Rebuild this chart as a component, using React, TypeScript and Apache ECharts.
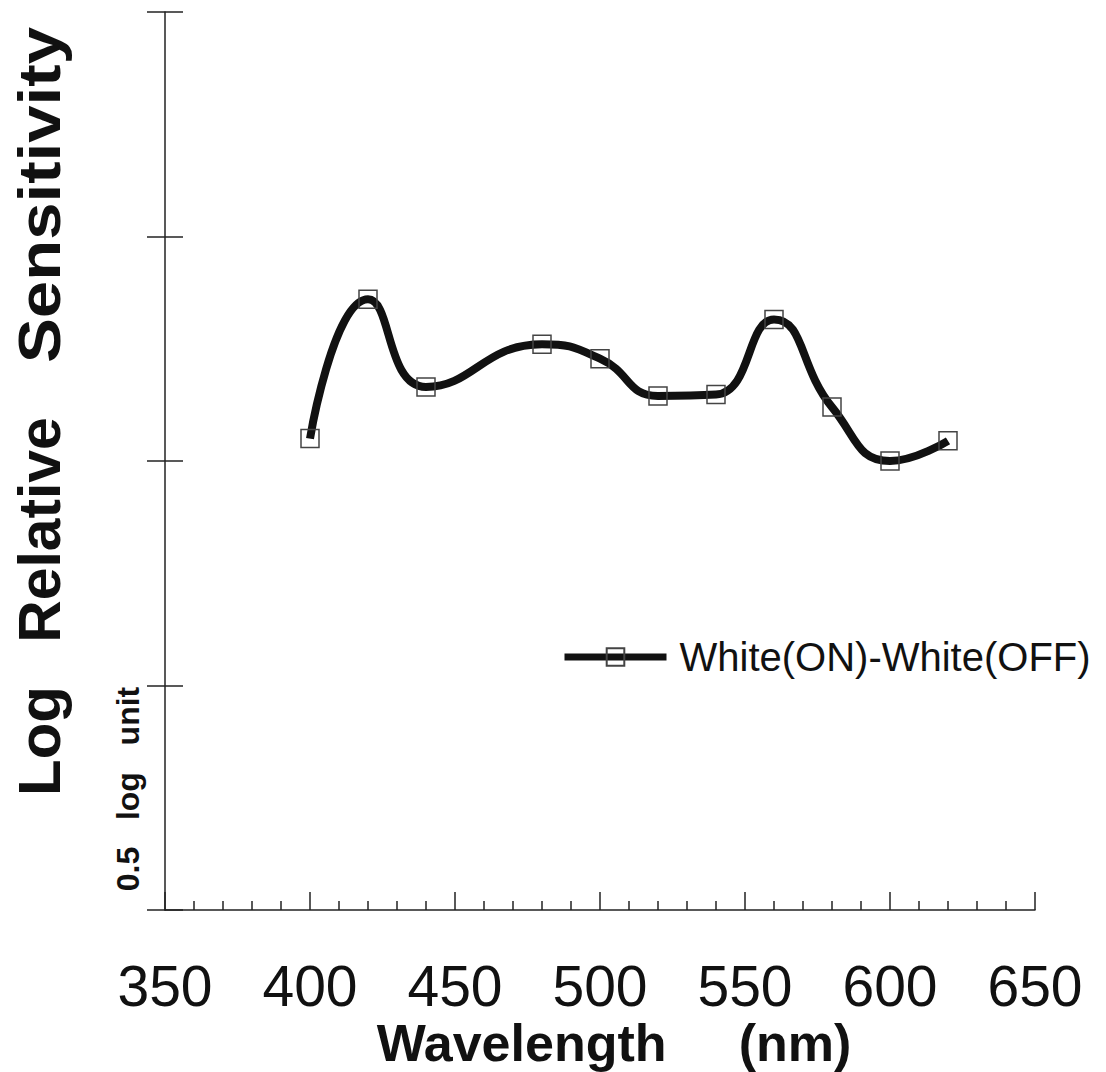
import React, { useEffect, useRef } from "react";
import * as echarts from "echarts";

const wavelengths = [400, 420, 440, 480, 500, 520, 540, 560, 580, 600, 620];
const sensitivity = [1.05, 1.36, 1.165, 1.26, 1.228, 1.145, 1.148, 1.315, 1.12, 1.0, 1.045];
const seriesName = "White(ON)-White(OFF)";
const xTitle = "Wavelength     (nm)";
const yTitleWords = ["Log", "Relative", "Sensitivity"];
const scaleNote = "0.5   log   unit";

const FONT = "'Liberation Sans', Arial, Helvetica, sans-serif";

export default function App() {
  const ref = useRef<HTMLDivElement>(null);
  useEffect(() => {
    const chart = echarts.init(ref.current!, null, { renderer: "svg" });
    const wordCenters = [741, 530, 195];
    const wordScale = [1.0, 0.98, 1.12];
    chart.setOption({
      animation: false,
      backgroundColor: "#ffffff",
      grid: { left: 165, right: 71, top: 12, bottom: 162 },
      legend: {
        show: true,
        left: 556,
        top: 632,
        itemWidth: 102,
        itemHeight: 22,
        data: [seriesName],
        textStyle: { fontSize: 40, color: "#111", fontFamily: FONT, padding: [0, 0, 0, 8] },
        lineStyle: { width: 7, color: "#111" },
      },
      xAxis: {
        type: "value",
        min: 350,
        max: 650,
        interval: 50,
        axisLine: { show: true, lineStyle: { color: "#222", width: 1.5 } },
        axisTick: { show: true, inside: true, length: 18, lineStyle: { color: "#222", width: 1.5 } },
        minorTick: { show: true, splitNumber: 5, length: 9, lineStyle: { color: "#222", width: 1.5 } },
        axisLabel: { fontSize: 57, lineHeight: 46, color: "#111", margin: 53, fontFamily: FONT },
        splitLine: { show: false },
      },
      yAxis: [
        {
          type: "value",
          min: 0,
          max: 2,
          interval: 0.5,
          axisLine: { show: true, lineStyle: { color: "#222", width: 1.5 } },
          axisTick: { show: true, inside: false, length: 18, lineStyle: { color: "#222", width: 1.5 } },
          axisLabel: { show: false },
          splitLine: { show: false },
        },
        {
          type: "value",
          position: "left",
          min: 0,
          max: 2,
          interval: 0.5,
          axisLine: { show: false },
          axisTick: { show: true, inside: true, length: 18, lineStyle: { color: "#222", width: 1.5 } },
          axisLabel: { show: false },
          splitLine: { show: false },
        },
      ],
      series: [
        {
          name: seriesName,
          type: "line",
          yAxisIndex: 0,
          data: wavelengths.map((w, i) => [w, sensitivity[i]]),
          smooth: 0.5,
          symbol: "rect",
          symbolSize: 18,
          lineStyle: { color: "#111", width: 8 },
          itemStyle: { color: "rgba(0,0,0,0)", borderColor: "#444", borderWidth: 1.5 },
          z: 3,
        },
      ],
      graphic: [
        ...yTitleWords.map((w, i) => ({
          type: "text",
          x: 39,
          y: wordCenters[i],
          rotation: Math.PI / 2,
          scaleX: wordScale[i],
          style: {
            text: w,
            font: `bold 60px ${FONT}`,
            fill: "#111",
            textAlign: "center",
            textVerticalAlign: "middle",
          },
        })),
        {
          type: "text",
          x: 128,
          y: 789,
          rotation: Math.PI / 2,
          style: {
            text: scaleNote,
            font: `bold 32px ${FONT}`,
            fill: "#111",
            textAlign: "center",
            textVerticalAlign: "middle",
          },
        },
        {
          type: "text",
          x: 614,
          y: 1043,
          style: {
            text: xTitle,
            font: `bold 52px ${FONT}`,
            fill: "#111",
            textAlign: "center",
            textVerticalAlign: "middle",
          },
        },
      ],
    });
    return () => chart.dispose();
  }, []);
  return <div ref={ref} style={{ position: "absolute", left: 0, top: 0, width: 1106, height: 1072 }} />;
}
